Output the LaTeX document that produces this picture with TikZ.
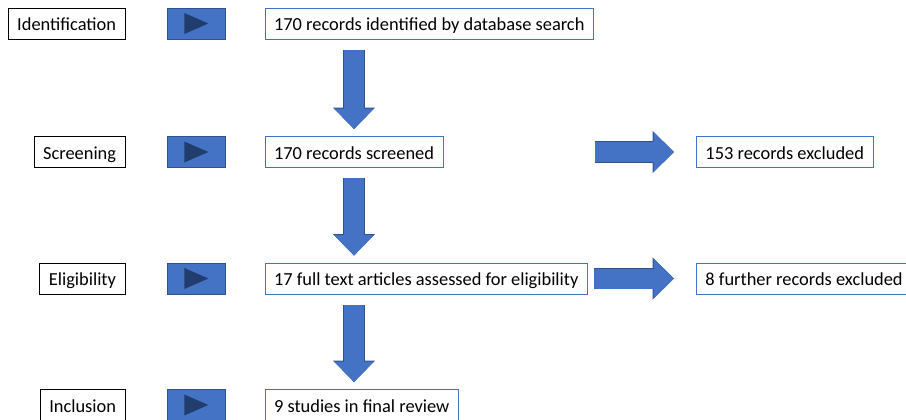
\documentclass[tikz,border=0pt]{standalone}
\usepackage{fontspec}
\setmainfont{Carlito}
\usepackage{xcolor}
\definecolor{blue1}{HTML}{4472C4}
\definecolor{blueline}{HTML}{2F528F}
\definecolor{tridark}{HTML}{213D6E}
\usetikzlibrary{arrows.meta, positioning, calc}

\begin{document}
\begin{tikzpicture}[x=1pt, y=-1pt,
  stage/.style = {draw=black, line width=0.9pt, minimum height=31pt, inner xsep=9pt,
                  text height=14.5pt, text depth=0pt,
                  font=\fontsize{18.4}{21}\selectfont, anchor=east},
  sq/.style    = {draw=blueline, fill=blue1, line width=0.6pt,
                  minimum width=58pt, minimum height=31pt},
  box/.style   = {draw=blue1, line width=0.9pt, minimum height=31pt, inner xsep=9pt,
                  text height=14.5pt, text depth=0pt,
                  font=\fontsize{18.4}{21}\selectfont},
  tri/.style   = {fill=tridark},
  blockarr/.style = {draw=blue1, line width=20pt,
                  -{Triangle[length=20.5pt, width=40pt, line width=0pt]},
                  preaction={draw=blueline, line width=21.4pt,
                  -{Triangle[length=21.5pt, width=42pt, line width=0pt]}}},
  dnarr/.style = {blockarr, shorten <=10.5pt, shorten >=7pt}
]
\useasboundingbox (0,0) rectangle (906,420);

\node[stage] (ident) at (125.5,23.5)  {Identification};
\node[stage] (scr)   at (125.5,152)   {Screening};
\node[stage] (elg)   at (125.5,278.5) {Eligibility};
\node[stage] (inc)   at (125.5,405)   {Inclusion};

\foreach \l/\s in {ident/sq1, scr/sq2, elg/sq3, inc/sq4}
  \node[sq, right=41.5pt of \l] (\s) {};

\foreach \s in {sq1, sq2, sq3, sq4}
  \fill[tri] ($(\s)+(-12,-10.5)$) -- ($(\s)+(12,0)$) -- ($(\s)+(-12,10.5)$) -- cycle;

\node[box, right=39pt of sq1] (found)  {170 records identified by database search};
\node[box, right=39pt of sq2] (screen) {170 records screened};
\node[box, right=39pt of sq3] (elig)   {17 full text articles assessed for eligibility};
\node[box, right=39pt of sq4] (final)  {9 studies in final review};
\node[box, anchor=west] (excl1) at (696,152)             {153 records excluded};
\node[box, anchor=west] (excl2) at (excl1.west |- elig) {8 further records excluded};

\draw[dnarr] (found.south -| screen) -- (screen.north);
\draw[dnarr] (screen.south) -- (screen |- elig.north);
\draw[dnarr] (elig.south -| screen) -- (screen |- final.north);

\draw[blockarr, shorten <=152pt, shorten >=22pt] (screen) -- (excl1);
\draw[blockarr, shorten <=6pt, shorten >=22pt]   (elig) -- (excl2);
\end{tikzpicture}
\end{document}
